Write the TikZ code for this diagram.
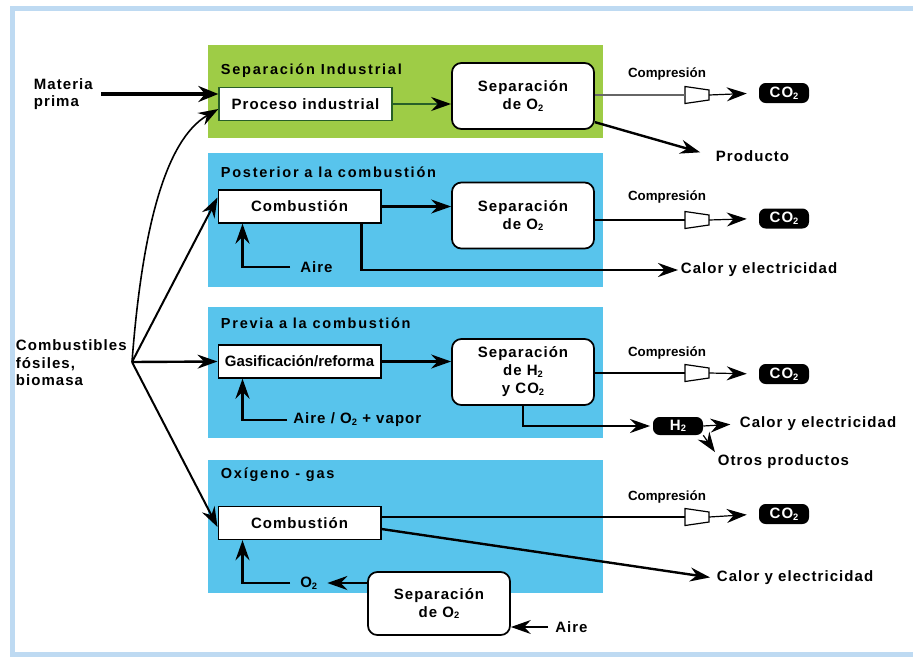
\documentclass[tikz,border=0pt]{standalone}
\usepackage{fontspec}
\setmainfont{Liberation Sans}[LetterSpace=7]
\newfontfamily\titfont{Liberation Sans}[LetterSpace=12]
\newfontfamily\plainfont{Liberation Sans}
\usetikzlibrary{arrows.meta,calc}
\definecolor{verde}{RGB}{158,204,70}
\definecolor{celeste}{RGB}{88,196,236}
\definecolor{marco}{RGB}{190,218,242}
\definecolor{verdeosc}{RGB}{40,95,40}
\newcommand{\idx}[1]{\raisebox{-0.2ex}{\fontsize{7}{7}\selectfont #1}}

\begin{document}
\begin{tikzpicture}[x=0.75pt,y=-0.75pt,
    every node/.style={font=\bfseries\fontsize{11.25}{13}\selectfont, inner sep=2pt},
    titulo/.style={anchor=west, font=\titfont\bfseries\fontsize{10.9}{12}\selectfont},
    proceso/.style={draw, line width=1pt, fill=white, minimum width=122pt, minimum height=24.75pt},
    separa/.style={draw, line width=1.3pt, fill=white, rounded corners=7pt, minimum width=106.5pt, minimum height=49.5pt, align=center, font=\bfseries\fontsize{11.25}{13.5}\selectfont},
    gas/.style={fill=black, rounded corners=5pt, text=white, minimum width=37.5pt, minimum height=15pt, inner sep=0pt},
    etiq/.style={anchor=west},
    comp/.style={font=\plainfont\bfseries\fontsize{10}{12}\selectfont},
    punta/.style={-{Stealth[length=15pt,width=10.5pt,inset=5pt]}},
    flecha/.style={line width=1.8pt, punta},
    fina/.style={line width=0.9pt, punta},
    linea/.style={line width=1.8pt}
  ]
  \clip (0,0) rectangle (913,657);
  \draw[marco, line width=3.75pt] (930,8.5) -- (12.5,8.5) -- (12.5,654.5) -- (930,654.5);

  % paneles
  \fill[verde] (208,45) rectangle (603,138);
  \fill[celeste] (208,153) rectangle (603,287);
  \fill[celeste] (208,307) rectangle (603,438);
  \fill[celeste] (208,460) rectangle (603,593);

  \node[titulo] (t1) at (218,71) {Separación Industrial};
  \node[titulo] (t2) at (218,172) {Posterior a la combustión};
  \node[titulo] (t3) at (218,323) {Previa a la combustión};
  \node[titulo] (t4) at (218,475) {Oxígeno - gas};

  % procesos
  \node[proceso, minimum width=129.75pt, draw=verdeosc] (proc) at (305.5,104) {Proceso industrial};
  \node[proceso] (comb1) at (299.5,206.5) {Combustión};
  \node[proceso, font=\plainfont\bfseries\fontsize{11.25}{13}\selectfont] (gasif) at (299.5,361.5) {Gasificación/reforma};
  \node[proceso] (comb2) at (299.5,523) {Combustión};

  \node[separa] (sep1) at (523,96) {Separación\\de O\idx{2}};
  \node[separa] (sep2) at (523,215.5) {Separación\\de O\idx{2}};
  \node[separa] (sep3) at (523,372) {Separación\\de H\idx{2}\\y CO\idx{2}};
  \node[separa, minimum height=47.25pt] (sep4) at (439,603.5) {Separación\\de O\idx{2}};

  % compresion
  \foreach \n/\y in {1/95,2/220,3/373,4/517}{
    \draw[line width=0.9pt, fill=white] (685,\y-8.5) -- (709,\y-5) -- (709,\y+5) -- (685,\y+8.5) -- cycle;
    \coordinate (cmp\n w) at (685,\y);
    \coordinate (cmp\n e) at (709,\y);
  }
  \node[comp] (lc1) at (667,74) {Compresión};
  \node[comp] (lc2) at (667,197) {Compresión};
  \node[comp] (lc3) at (667,353) {Compresión};
  \node[comp] (lc4) at (667,497) {Compresión};
  \node[gas] (co1) at (784,93) {CO\idx{2}};
  \node[gas] (co2) at (784,218.5) {CO\idx{2}};
  \node[gas] (co3) at (784,374) {CO\idx{2}};
  \node[gas] (co4) at (784,514) {CO\idx{2}};
  \node[gas, minimum height=13.5pt] (h2) at (678,426) {H\idx{2}};

  % etiquetas
  \node[anchor=west, align=left, font=\bfseries\fontsize{11.25}{12.75}\selectfont] (mat) at (31,94) {Materia\\prima};
  \node[anchor=west, align=left, font=\bfseries\fontsize{11.25}{13.1}\selectfont] (fuel) at (13,363) {Combustibles\\fósiles,\\biomasa};
  \node[etiq] (prod) at (713,156) {Producto};
  \node[etiq] (cal2) at (678,270) {Calor y electricidad};
  \node[etiq] (cal3) at (737,424) {Calor y electricidad};
  \node[etiq] (otros) at (715,462) {Otros productos};
  \node[etiq] (cal4) at (714,578) {Calor y electricidad};
  \node[etiq, inner xsep=7.5pt] (aire2) at (290,267) {Aire};
  \node[etiq, inner xsep=4.5pt] (aire3) at (287,420) {Aire / O\idx{2} + vapor};
  \node[etiq, inner xsep=7.5pt] (o2) at (290,583) {O\idx{2}};
  \node[etiq, inner xsep=5.25pt] (aire4) at (548,627) {Aire};
  \coordinate (fan) at (132,362);

  % entradas
  \draw[line width=2.4pt, -{Stealth[length=15pt,width=12pt,inset=5pt]}, shorten <=4pt] (mat.east) -- ($(proc.west)+(0,-10)$);
  \draw[line width=1.2pt, punta] (fan) .. controls (142,230) and (165,140) .. ($(proc.west)+(0,5)$);
  \draw[line width=1.5pt, punta] (fan) -- ($(comb1.west)+(0,-9)$);
  \draw[flecha] (fan) -- (gasif.west);
  \draw[line width=1.5pt, punta] (fan) -- ($(comb2.west)+(0,4)$);

  % flujos
  \draw[linea, verdeosc, -{Stealth[length=15pt,width=10.5pt,inset=5pt,black]}] (proc.east) -- (proc.east -| sep1.west);
  \draw[flecha] (comb1.east) -- (comb1.east -| sep2.west);
  \draw[flecha] (gasif.east) -- (gasif.east -| sep3.west);

  \draw[line width=0.9pt, black!60] (sep1.east |- cmp1w) -- (cmp1w);
  \draw[linea] (sep2.east |- cmp2w) -- (cmp2w);
  \draw[linea] (sep3.east |- cmp3w) -- (cmp3w);
  \draw[linea] (comb2.east |- cmp4w) -- (cmp4w);
  \draw[fina, shorten >=9pt] (cmp1e) -- (co1.west);
  \draw[fina, shorten >=9pt] (cmp2e) -- (co2.west);
  \draw[fina, shorten >=9pt] (cmp3e) -- (co3.west);
  \draw[fina, shorten >=9pt] (cmp4e) -- (co4.west);

  \draw[flecha, shorten >=10pt] (sep1.-20) -- (prod.west);
  \draw[flecha] ($(comb1.south east)+(-20,0)$) |- (cal2.west);
  \draw[flecha] (aire2.west) -| ($(comb1.south west)+(25,0)$);
  \draw[flecha] (aire3.west) -| ($(gasif.south west)+(25,0)$);
  \draw[flecha, shorten >=2pt] (sep3.south) |- (h2.west);
  \draw[fina, shorten >=5pt] (h2.east) -- (cal3.west);
  \draw[fina] (h2.south east) -- (otros.north west);
  \draw[flecha, shorten >=3pt] ($(comb2.east)+(0,6)$) -- (cal4.west);
  \draw[flecha] (o2.west) -| ($(comb2.south west)+(25,0)$);
  \draw[flecha] (sep4.west |- o2.east) -- (o2.east);
  \draw[fina] (aire4.west) -- (aire4.west -| sep4.east);
\end{tikzpicture}
\end{document}
